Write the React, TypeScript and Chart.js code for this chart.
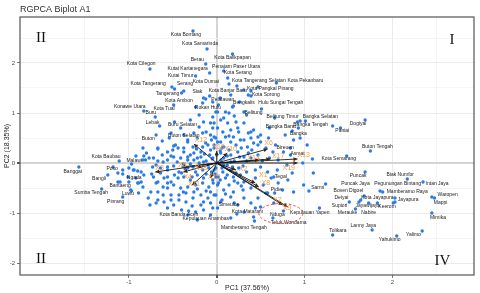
import React, { useEffect, useRef } from 'react';
import { Chart, registerables } from 'chart.js';
Chart.register(...registerables);

const chartTitle = 'RGPCA Biplot A1';
const xTitle = 'PC1 (37.56%)';
const yTitle = 'PC2 (18.35%)';
const xRange = [-2.24, 2.93];
const yRange = [-2.24, 2.92];

// unlabelled observations [PC1, PC2]
const cloud: number[][] = [
  [-0.40,1.40],[-0.07,0.80],[-0.15,0.82],[-0.49,0.34],[-0.375,0.56],[-0.67,0.30],[-0.03,0.52],[-0.045,0.70],[0.01,0.42],[-0.20,0.72],[-0.33,0.46],[-0.10,0.36],[-0.41,0.70],
  [0.31,1.46],[0.47,1.52],[0.16,1.36],[0.36,1.36],[-0.045,1.22],[0.02,1.16],[0.18,1.12],[0.14,1.0],[0.01,1.02],[0.10,1.02],[0.31,1.02],[-0.045,0.92],[0.045,0.86],[0.08,0.90],[0.125,0.80],[0.22,0.82],[-0.03,0.80],[0.01,0.70],[0.07,0.62],[0.16,0.66],[0.25,0.62],[0.31,0.80],[0.39,0.62],[0.42,0.66],[0.47,0.52],[0.19,0.52],[0.10,0.52],[-0.01,0.50],[0.045,0.42],[0.16,0.42],[0.31,0.46],[0.42,0.40],[-0.03,0.36],[0.08,0.32],[0.22,0.36],[0.35,0.32],[0.50,0.42],[0.59,0.50],[0.67,0.36],[0.92,0.82],[0.78,0.56],[0.875,0.46],[0.95,0.50],[1.03,0.36],
  [-0.67,0.28],[-0.50,0.26],[-0.44,0.30],[-0.375,0.22],[-0.27,0.32],[-0.23,0.28],[-0.16,0.32],[-0.07,0.26],
  [-0.84,0.06],[-0.77,0.10],[-0.67,0.04],[-0.61,0.02],[-0.56,0.06],[-0.41,0.10],[-0.33,0.06],[-0.22,0.10],
  [-1.07,-0.14],[-1.0,-0.10],[-0.94,-0.14],[-0.86,-0.18],[-1.01,-0.28],[-0.73,-0.08],[-0.64,-0.10],[-0.56,-0.14],[-0.49,-0.06],[-0.43,-0.18],[-0.33,-0.10],[-0.27,-0.08],[-0.16,-0.14],[-0.09,-0.10],[-0.01,-0.10],
  [-0.92,-0.30],[-0.86,-0.38],[-0.72,-0.28],[-0.60,-0.30],[-0.52,-0.38],[-0.44,-0.30],[-0.375,-0.28],[-0.30,-0.34],[-0.22,-0.24],[-0.15,-0.30],[-0.045,-0.34],[0.02,-0.28],
  [-0.98,-0.54],[-0.69,-0.40],[-0.61,-0.48],[-0.56,-0.50],[-0.49,-0.44],[-0.41,-0.50],[-0.33,-0.48],[-0.24,-0.44],[-0.16,-0.40],[-0.09,-0.48],[0.01,-0.44],
  [-0.89,-0.60],[-0.67,-0.58],[-0.52,-0.64],[-0.43,-0.64],[-0.35,-0.60],[-0.26,-0.58],[-0.18,-0.64],[-0.07,-0.58],[-0.01,-0.64],
  [-0.43,-0.74],[-0.35,-0.78],[-0.27,-0.70],[-0.15,-0.78],[-0.07,-0.80],[-0.18,-0.84],[-0.24,-0.98],[-0.15,-0.94],[0.01,-0.90],[-0.49,-0.84],[-0.33,-1.04],[-0.07,-1.04],[-0.22,-1.14],
  [-0.03,0.30],[0.045,0.20],[-0.045,0.10],[0.01,0.0],[0.08,-0.04],[-0.03,-0.14],[0.07,-0.18],[0.16,-0.14],[-0.01,-0.28],[0.10,-0.30],[0.19,-0.28],[0.27,-0.24],[0.02,-0.40],[0.14,-0.44],[0.24,-0.40],[0.31,-0.38],[0.08,-0.54],[0.19,-0.58],[0.30,-0.54],[0.39,-0.50],[-0.03,-0.64],[0.16,-0.68],[0.31,-0.70],[0.47,-0.70],[0.24,-0.84],[0.39,-0.80],[-0.045,-0.90],[0.50,-0.88],[0.65,-0.80],[0.31,-0.98],[0.42,-1.08],[0.16,-1.10],[0.44,-0.30],[0.53,-0.44],[0.58,-0.18],[0.50,-0.08],[0.69,-0.14],[0.81,-0.34],[0.75,-0.54],[0.875,-0.58],[0.99,-0.44],[0.47,0.16],[0.64,0.22],[0.84,0.16],[0.98,0.0],
  [-0.56,0.22],[-0.47,0.36],[-0.375,0.30],[-0.33,0.42],[-0.22,0.50],[-0.125,0.40],[-0.07,0.56],[0.24,0.70],[0.27,0.46],[0.39,0.50],[0.47,0.36],[0.50,0.56],[-0.49,0.12],[-0.33,0.12],[-0.26,0.06],[-0.18,0.12],[-0.15,0.02],[-0.72,0.10],[0.16,0.16],[0.24,0.22],[0.31,0.12],[0.39,0.10],[0.16,0.02],[0.08,0.10],[0.18,-0.08],[0.25,-0.10],
  [-0.81,0.06],[-0.69,-0.04],[-0.56,-0.08],[-0.83,-0.24],[-0.67,-0.38],[-0.56,-0.40],[-0.75,-0.58],[-0.61,-0.64],[-0.67,-0.74],[-0.60,-0.78],[-0.69,-0.80],[-1.07,-0.22],[-0.95,-0.14],[-0.90,-0.16],[-1.0,-0.38],[-0.89,-0.40],[-1.125,-0.38],[-0.56,-0.28],
  [-0.12,0.04],[-0.05,0.08],[0.05,0.06],[0.12,-0.04],[-0.10,-0.04],[-0.20,0.0],[0.20,0.04],[0.06,-0.10],[-0.06,-0.18],[0.12,0.14],[-0.14,0.18],[0.0,0.16],[0.30,-0.06],[-0.30,-0.02],[0.22,-0.20],[-0.24,-0.18],[0.06,0.30],[-0.02,-0.22],[0.34,0.04],[-0.40,-0.20],
  [1.10,-0.20],[1.05,-0.56],[-0.12,0.62],[-0.26,0.20],[0.36,0.20],[-0.38,-0.02],[0.28,0.30],[-0.52,0.14],[0.60,0.10],[0.70,-0.40],
  [-0.80,0.20],[-0.62,0.16],[-0.45,0.02],[-0.36,-0.12],[-0.28,-0.28],[-0.12,-0.22],[-0.04,-0.40],[0.04,-0.34],[0.12,-0.24],[0.20,-0.36],[0.28,-0.46],[0.10,-0.62],[-0.10,-0.70],[-0.28,-0.86],[-0.40,-0.94],[-0.56,-0.90],[-0.78,-0.70],[-0.84,-0.48],[-0.74,-0.22],[-0.64,-0.20],[-0.48,-0.24],[-0.30,0.16],[-0.18,0.22],[-0.08,0.16],[0.04,0.24],[0.14,0.26],[0.26,0.12],[0.40,0.26],[0.56,0.30],[0.36,0.60],[0.20,0.94],[-0.20,0.96],[-0.26,0.60],[-0.54,0.50],[-0.62,0.44],[-0.84,0.30],[-0.92,0.14],[-1.18,-0.08],[-0.97,-0.02],[0.62,-0.30],[0.56,-0.60],[0.34,-0.18],[0.44,-0.14],[0.52,0.04],[0.70,0.06],[0.80,-0.04],[0.86,-0.20],[0.66,-0.60],[0.20,-0.80],[0.06,-0.74],[-0.22,-0.52],[-0.12,-0.56],[-0.38,-0.58],[-0.52,-0.74],[-0.76,-0.84],[-0.30,0.86],[0.26,1.22],[0.04,1.30],[-0.24,1.12],[0.60,0.70],[0.66,0.90],[0.84,0.30],[-0.06,0.46],[0.14,0.54],[-0.16,0.60]
];

// labelled observations
const placeNames = [
  'Kota Bontang','Kota Samarinda','Kota Balikpapan','Berau','Penajam Paser Utara','Kutai Kartanegara','Kota Cilegon','Kota Serang','Kutai Timur','Kota Tangerang',
  'Serang','Tangerang','Kota Dumai','Kota Tangerang Selatan','Kota Pekanbaru','Kota Pangkal Pinang','Kota Banjar Baru','Siak','Pelalawan','Kota Ambon',
  'Kota Tual','Rokan Hulu','Bengkalis','Kota Sorong','Hulu Sungai Tengah','Belitung','Konawe Utara','Buru','Lebak','Buru Selatan',
  'Buton Selatan','Buton','Belitung Timur','Bangka Barat','Bangka Selatan','Bangka Tengah','Bangka','Paniai','Dogiyai','Buton Tengah',
  'Kota Semarang','Asmat','Bireuen','Tegal','Pidie','Simeulue','Kota Mataram','Nduga','Kepulauan Yapen','Teluk Wondama',
  'Kepulauan Anambas','Mamberamo Tengah','Kota Banda Aceh','Kota Baubau','Malawi','Banggai','Poso','Bangli','Ngada','Bantaeng',
  'Sumba Tengah','Luwu','Pinrang','Sarmi','Puncak','Biak Numfor','Puncak Jaya','Intan Jaya','Pegunungan Bintang','Boven Digoel',
  'Mamberamo Raya','Deiyai','Kota Jayapura','Waropen','Mappi','Supiori','Jayawijaya','Jayapura','Keerom','Nabire',
  'Merauke','Mimika','Lanny Jaya','Tolikara','Yalimo','Yahukimo'
];
const placeX = [
  -0.27,-0.11,0.18,-0.125,0.08,-0.08,-0.76,0.125,-0.24,-0.51,
  -0.375,-0.48,0.14,0.23,0.68,0.39,-0.08,-0.15,-0.125,-0.16,
  -0.49,-0.01,0.19,0.39,0.51,0.34,-0.83,-0.70,-0.65,-0.48,
  -0.52,-0.69,0.95,0.93,1.01,1.32,0.86,1.41,1.69,1.75,
  1.48,1.09,0.76,0.65,0.58,0.045,0.44,0.76,1.17,0.64,
  0.23,0.43,-0.32,-1.11,-0.83,-1.57,-1.125,-1.24,-0.90,-1.10,
  -1.31,-0.97,-1.07,1.24,1.69,2.17,1.86,2.35,1.89,1.68,
  2.03,1.64,1.73,2.45,2.48,1.51,1.62,2.03,2.01,1.83,
  1.58,2.45,1.77,1.32,2.34,2.05
];
const placeY = [
  2.64,2.28,2.18,1.98,1.84,1.80,1.88,1.70,1.74,1.52,
  1.44,1.48,1.58,1.54,1.60,1.44,1.34,1.30,1.28,1.20,
  1.16,1.02,1.14,1.34,1.08,0.96,1.04,0.92,0.74,0.82,
  0.60,0.56,0.84,0.70,0.84,0.74,0.64,0.70,0.86,0.24,
  0.14,0.08,0.22,-0.28,-0.60,-0.78,-0.90,-0.96,-0.90,-1.10,
  -1.02,-1.16,-0.96,0.04,0.14,-0.08,-0.20,-0.24,-0.40,-0.38,
  -0.52,-0.56,-0.68,-0.42,-0.18,-0.32,-0.56,-0.38,-0.58,-0.66,
  -0.70,-0.74,-0.80,-0.68,-0.70,-0.78,-0.78,-0.78,-0.80,-0.80,
  -0.92,-1.00,-1.34,-1.44,-1.36,-1.46
];
const placeLabelX = [
  -0.35,-0.19,0.18,-0.22,0.22,-0.33,-0.86,0.24,-0.41,-0.78,
  -0.36,-0.56,-0.125,0.48,1.01,0.61,0.125,-0.22,0.07,-0.43,
  -0.60,-0.10,0.31,0.56,0.73,0.42,-0.99,-0.75,-0.73,-0.39,
  -0.375,-0.78,0.75,0.73,1.18,1.07,0.93,1.43,1.61,1.83,
  1.39,0.92,0.78,0.73,0.68,0.14,0.35,0.69,1.06,0.82,
  -0.125,0.31,-0.43,-1.26,-0.94,-1.64,-1.19,-1.34,-0.94,-1.10,
  -1.43,-1.01,-1.15,1.15,1.61,2.09,1.58,2.51,2.06,1.50,
  2.17,1.42,1.83,2.63,2.55,1.40,1.72,2.18,1.94,1.73,
  1.49,2.52,1.67,1.38,2.24,1.97
];
const placeLabelY = [
  2.56,2.38,2.10,2.06,1.92,1.88,1.98,1.80,1.74,1.58,
  1.58,1.38,1.62,1.64,1.64,1.48,1.44,1.42,1.26,1.24,
  1.08,1.10,1.20,1.36,1.20,1.00,1.12,1.00,0.80,0.76,
  0.54,0.48,0.92,0.72,0.92,0.76,0.58,0.64,0.78,0.32,
  0.08,0.18,0.30,-0.28,-0.54,-0.84,-0.98,-1.04,-1.00,-1.20,
  -1.12,-1.30,-1.04,0.12,0.04,-0.18,-0.12,-0.32,-0.30,-0.46,
  -0.60,-0.62,-0.78,-0.50,-0.26,-0.24,-0.42,-0.42,-0.42,-0.56,
  -0.58,-0.70,-0.70,-0.64,-0.80,-0.86,-0.86,-0.74,-0.88,-1.00,
  -1.00,-1.10,-1.26,-1.36,-1.44,-1.54
];

// variable loadings (arrows)
const loadingNames = ['X1','X2','X3','X4','X5','X6','X7','X8','X9','X10','X11','X12','X13','X14','X15','X16','X17','X18','X19'];
const loadingX = [0.44,0.22,-0.70,-0.38,-0.40,0.58,0.75,0.48,0.81,0.12,-0.28,-0.26,0.92,0.48,-0.07,0.0,0.61,-0.22,0.92];
const loadingY = [-0.40,-0.14,-0.18,-0.18,-0.08,0.28,-0.84,-0.48,-0.88,0.20,-0.44,0.38,0.08,0.06,-0.30,0.24,0.08,-0.08,0.0];
const loadingLabelX = [0.53,0.30,-0.65,-0.33,-0.39,0.59,0.69,0.56,0.80,0.16,-0.26,-0.18,0.99,0.42,-0.03,0.02,0.70,-0.18,0.82];
const loadingLabelY = [-0.24,-0.12,-0.10,-0.28,-0.04,0.40,-0.74,-0.40,-0.90,0.28,-0.42,0.46,0.15,0.10,-0.28,0.32,0.14,-0.10,-0.10];

const quadrantNames = ['II','I','II','IV'];
const quadrantX = [-2.0, 2.68, -2.0, 2.57];
const quadrantY = [2.5, 2.46, -1.92, -1.96];

const highlightCenter = [0.73, -1.01];
const highlightRadii = [0.25, 0.2];

const SANS = '"Liberation Sans", Arial, sans-serif';

const overlay = {
  id: 'biplotOverlay',
  afterDatasetsDraw(chart: any) {
    const { ctx, scales, chartArea } = chart;
    const xs = scales.x, ys = scales.y;
    const px = (v: number) => xs.getPixelForValue(v);
    const py = (v: number) => ys.getPixelForValue(v);
    ctx.save();
    ctx.beginPath();
    ctx.rect(chartArea.left, chartArea.top, chartArea.right - chartArea.left, chartArea.bottom - chartArea.top);
    ctx.clip();

    // arrows
    const ox = px(0), oy = py(0);
    loadingNames.forEach((_, i) => {
      const ex = px(loadingX[i]), ey = py(loadingY[i]);
      ctx.strokeStyle = '#1a1a1a';
      ctx.lineWidth = 0.9;
      ctx.beginPath();
      ctx.moveTo(ox, oy);
      ctx.lineTo(ex, ey);
      ctx.stroke();
      const a = Math.atan2(ey - oy, ex - ox);
      const L = 4, W = 2;
      ctx.fillStyle = '#4a2208';
      ctx.beginPath();
      ctx.moveTo(ex, ey);
      ctx.lineTo(ex - L * Math.cos(a) + W * Math.sin(a), ey - L * Math.sin(a) - W * Math.cos(a));
      ctx.lineTo(ex - L * Math.cos(a) - W * Math.sin(a), ey - L * Math.sin(a) + W * Math.cos(a));
      ctx.closePath();
      ctx.fill();
    });

    // place labels
    ctx.font = `5px ${SANS}`;
    ctx.fillStyle = '#1a1a1a';
    ctx.textAlign = 'center';
    ctx.textBaseline = 'middle';
    placeNames.forEach((n, i) => {
      ctx.fillText(n, px(placeLabelX[i]), py(placeLabelY[i]));
    });

    // loading labels
    ctx.font = `7px ${SANS}`;
    ctx.fillStyle = '#f39a45';
    loadingNames.forEach((n, i) => {
      ctx.fillText(n, px(loadingLabelX[i]), py(loadingLabelY[i]));
    });

    // highlight ellipse
    const cx = px(highlightCenter[0]), cy = py(highlightCenter[1]);
    const rx = Math.abs(px(highlightCenter[0] + highlightRadii[0]) - cx);
    const ry = Math.abs(py(highlightCenter[1] + highlightRadii[1]) - cy);
    ctx.strokeStyle = '#e8332a';
    ctx.lineWidth = 0.9;
    ctx.setLineDash([2.5, 2]);
    ctx.beginPath();
    ctx.ellipse(cx, cy, rx, ry, 0, 0, Math.PI * 2);
    ctx.stroke();
    ctx.setLineDash([]);

    // quadrant labels
    ctx.font = `15px "Liberation Serif", "DejaVu Serif", serif`;
    ctx.fillStyle = '#111';
    quadrantNames.forEach((n, i) => {
      ctx.fillText(n, px(quadrantX[i]), py(quadrantY[i]));
    });
    ctx.restore();

    // panel border
    ctx.save();
    ctx.strokeStyle = '#555';
    ctx.lineWidth = 1.2;
    ctx.strokeRect(chartArea.left, chartArea.top, chartArea.right - chartArea.left, chartArea.bottom - chartArea.top);
    // title
    ctx.font = `9px ${SANS}`;
    ctx.fillStyle = '#333';
    ctx.textAlign = 'left';
    ctx.textBaseline = 'middle';
    ctx.fillText(chartTitle, chartArea.left, 10);
    ctx.restore();
  },
};

const isStep = (v: number, s: number) => Math.abs(v / s - Math.round(v / s)) < 1e-6;
const gridColor = (c: any) => {
  const v = c.tick ? c.tick.value : 0;
  if (Math.abs(v) < 1e-6) return '#d4d4d4';
  if (isStep(v, 1)) return '#e6e6e6';
  if (isStep(v, 0.5)) return '#f3f3f3';
  return 'rgba(0,0,0,0)';
};
const gridWidth = (c: any) => {
  const v = c.tick ? c.tick.value : 0;
  return Math.abs(v) < 1e-6 ? 2 : 0.8;
};
const tickColor = (c: any) => {
  const v = c.tick ? c.tick.value : 0;
  return isStep(v, 1) ? '#555' : 'rgba(0,0,0,0)';
};
const tickLabel = (v: any) => (isStep(Number(v), 1) ? String(Math.round(Number(v))) : '');

export default function App() {
  const ref = useRef<HTMLCanvasElement>(null);
  useEffect(() => {
    document.body.style.margin = '0';
    const pts = cloud.map(([x, y]) => ({ x, y }));
    const lab = placeX.map((x, i) => ({ x, y: placeY[i] }));
    const chart = new Chart(ref.current as HTMLCanvasElement, {
      type: 'scatter',
      data: {
        datasets: [
          { data: pts, backgroundColor: '#2a7be4', borderWidth: 0, pointRadius: 1.7 },
          { data: lab, backgroundColor: '#2a7be4', borderWidth: 0, pointRadius: 1.7 },
        ],
      },
      options: {
        animation: false,
        responsive: false,
        maintainAspectRatio: false,
        layout: { padding: { top: 17, right: 6, left: 0, bottom: 0 } },
        plugins: { legend: { display: false }, tooltip: { enabled: false }, title: { display: false } },
        scales: {
          x: {
            type: 'linear',
            min: xRange[0],
            max: xRange[1],
            afterFit: (s: any) => { s.height = 18; },
            border: { display: false },
            grid: { color: gridColor, lineWidth: gridWidth, tickColor, tickLength: 3 },
            ticks: { stepSize: 0.5, callback: tickLabel, font: { size: 6, family: SANS }, color: '#4d4d4d', padding: 1, maxRotation: 0, autoSkip: false },
            title: { display: true, text: xTitle, font: { size: 7, family: SANS }, color: '#222', padding: { top: 0, bottom: 1 } },
          },
          y: {
            type: 'linear',
            min: yRange[0],
            max: yRange[1],
            afterFit: (s: any) => { s.width = 20; },
            border: { display: false },
            grid: { color: gridColor, lineWidth: gridWidth, tickColor, tickLength: 3 },
            ticks: { stepSize: 0.5, callback: tickLabel, font: { size: 6, family: SANS }, color: '#4d4d4d', padding: 2, autoSkip: false },
            title: { display: true, text: yTitle, font: { size: 7, family: SANS }, color: '#222', padding: { top: 3, bottom: 0 } },
          },
        },
      },
      plugins: [overlay],
    } as any);
    return () => chart.destroy();
  }, []);
  return <canvas ref={ref} width={480} height={293} style={{ display: 'block', width: 480, height: 293 }} />;
}
